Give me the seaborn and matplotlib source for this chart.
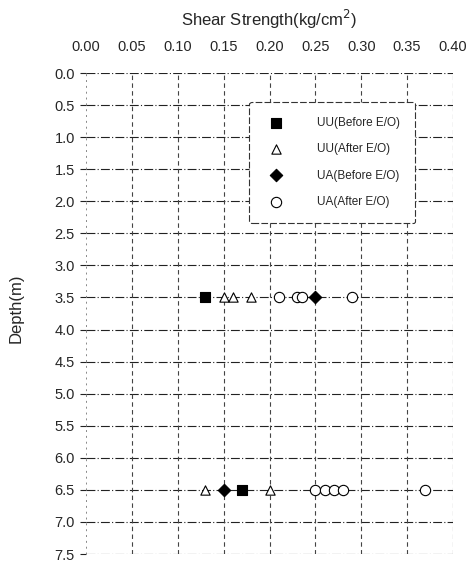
import numpy as np
import pandas as pd
import seaborn as sns
import matplotlib.pyplot as plt

# values
uu_before_x = [0.13, 0.17]
uu_before_y = [3.5, 6.5]
uu_after_x = [0.15, 0.16, 0.18, 0.13, 0.20]
uu_after_y = [3.5, 3.5, 3.5, 6.5, 6.5]
ua_before_x = [0.25, 0.15]
ua_before_y = [3.5, 6.5]
ua_after_x = [0.21, 0.23, 0.235, 0.29, 0.25, 0.26, 0.27, 0.28, 0.37]
ua_after_y = [3.5, 3.5, 3.5, 3.5, 6.5, 6.5, 6.5, 6.5, 6.5]

x_ticks = [0.00, 0.05, 0.10, 0.15, 0.20, 0.25, 0.30, 0.35, 0.40]
y_ticks = [0.0, 0.5, 1.0, 1.5, 2.0, 2.5, 3.0, 3.5, 4.0, 4.5, 5.0, 5.5, 6.0, 6.5, 7.0, 7.5]

sns.set_style('white')
plt.rcParams['font.family'] = ['Liberation Sans', 'DejaVu Sans']

fig = plt.figure(figsize=(4.77, 5.62), dpi=100)
ax = fig.add_axes([86/477, 8/562, 367/477, 481/562])

series = [
    ('UU(Before E/O)', uu_before_x, uu_before_y, 's', 'black', 55),
    ('UU(After E/O)', uu_after_x, uu_after_y, '^', 'white', 45),
    ('UA(Before E/O)', ua_before_x, ua_before_y, 'D', 'black', 40),
    ('UA(After E/O)', ua_after_x, ua_after_y, 'o', 'white', 55),
]
for name, xs, ys, mk, fc, sz in series:
    df = pd.DataFrame({'strength': xs, 'depth': ys})
    sns.scatterplot(data=df, x='strength', y='depth', marker=mk, color=fc,
                    edgecolor='black', linewidth=0.8, s=sz, label=name,
                    ax=ax, zorder=3)

ax.set_xlim(0, 0.40)
ax.set_ylim(7.5, 0)
ax.set_xticks(x_ticks)
ax.set_xticklabels([f'{v:.2f}' for v in x_ticks])
ax.set_yticks(y_ticks)
ax.set_yticklabels([f'{v:.1f}' for v in y_ticks])
ax.xaxis.tick_top()
ax.xaxis.set_label_position('top')
ax.tick_params(axis='x', length=0, pad=14, labelsize=10.5)
ax.tick_params(axis='y', length=4, width=0.8, color='#222222', left=True, pad=4, labelsize=10.5)

for sp in ['left', 'right', 'bottom', 'top']:
    ax.spines[sp].set_visible(False)

for y in y_ticks:
    ax.axhline(y, color='#222222', lw=0.8, ls=(0, (8, 2, 1, 2)), zorder=1)
ax.axvline(0.0, color='#888888', lw=0.7, ls=(0, (2, 4)), zorder=1)
for x in x_ticks[1:]:
    ax.axvline(x, color='#444444', lw=0.8, ls=(0, (4, 3)), zorder=1)

ax.set_xlabel('Shear Strength(kg/cm$^2$)', fontsize=12, labelpad=10)
ax.set_ylabel('Depth(m)', fontsize=12)
ax.yaxis.set_label_coords(-0.17, 0.51)

leg = ax.legend(loc='upper left', bbox_to_anchor=(0.445, 0.94), fontsize=8.5,
                frameon=True, fancybox=True, edgecolor='#333333',
                borderpad=1.3, labelspacing=1.2, handletextpad=2.4,
                borderaxespad=0, framealpha=1)
leg.get_frame().set_linestyle((0, (6, 2)))
leg.get_frame().set_linewidth(0.8)

fig.savefig('out.png', dpi=100)
